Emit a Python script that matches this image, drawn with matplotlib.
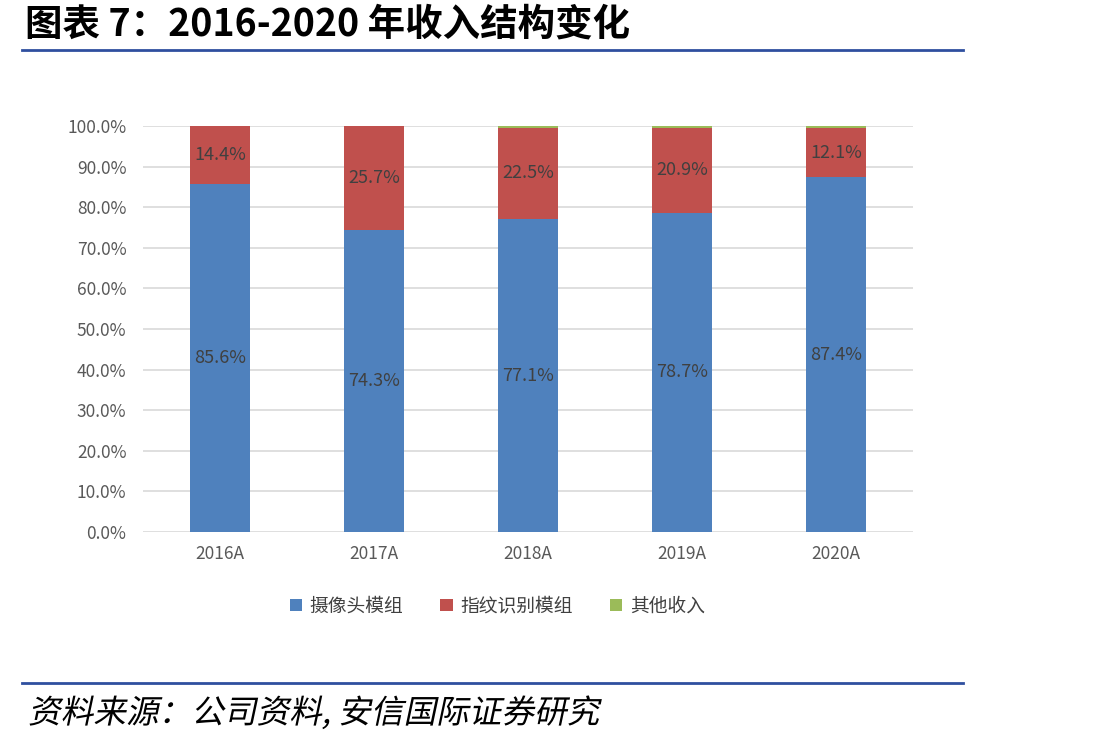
import matplotlib.pyplot as plt
from matplotlib.lines import Line2D
from matplotlib.ticker import FuncFormatter
from matplotlib.textpath import TextPath
from matplotlib.patches import PathPatch
from matplotlib.font_manager import FontProperties
from matplotlib.transforms import Affine2D

plt.rcParams['font.family'] = ['Noto Sans CJK SC', 'DejaVu Sans']

# Data (percent of revenue)
years = ['2016A', '2017A', '2018A', '2019A', '2020A']
camera = [85.6, 74.3, 77.1, 78.7, 87.4]
fingerprint = [14.4, 25.7, 22.5, 20.9, 12.1]
other = [0.0, 0.0, 0.4, 0.4, 0.5]
series_names = ['摄像头模组', '指纹识别模组', '其他收入']

BLUE = '#4F81BD'
RED = '#C0504D'
GREEN = '#9BBB59'
LINE_BLUE = '#2F4F9F'

fig = plt.figure(figsize=(11.15, 7.44), dpi=100)
ax = fig.add_axes([0.1283, 0.2849, 0.6905, 0.5457])

x = list(range(len(years)))
width = 0.39
ax.bar(x, camera, width, color=BLUE, label=series_names[0], zorder=3)
ax.bar(x, fingerprint, width, bottom=camera, color=RED, label=series_names[1], zorder=3)
bottom2 = [c + f for c, f in zip(camera, fingerprint)]
ax.bar(x, other, width, bottom=bottom2, color=GREEN, label=series_names[2], zorder=3)

# data labels
for i in x:
    ax.text(i, camera[i] / 2, f'{camera[i]:.1f}%', ha='center', va='center',
            fontsize=13, color='#404040', zorder=4)
    ax.text(i, camera[i] + fingerprint[i] / 2, f'{fingerprint[i]:.1f}%', ha='center',
            va='center', fontsize=13, color='#404040', zorder=4)

ax.set_xlim(-0.5, len(years) - 0.5)
ax.set_ylim(0, 100)
ax.set_yticks(range(0, 101, 10))
ax.yaxis.set_major_formatter(FuncFormatter(lambda v, p: f'{v:.1f}%'))
ax.set_xticks(x)
ax.set_xticklabels(years)
ax.tick_params(axis='both', length=0, labelsize=12.5, colors='#595959', pad=9)
ax.tick_params(axis='y', pad=12)
ax.grid(axis='y', color='#D9D9D9', linewidth=1.2, zorder=0)
for s in ax.spines.values():
    s.set_visible(False)

ax.legend(loc='upper center', bbox_to_anchor=(0.46, -0.115), ncol=3, frameon=False,
          fontsize=13.5, handlelength=0.65, handleheight=0.65, handletextpad=0.4,
          columnspacing=2.0, labelcolor='#404040')

# title and separators
fig.text(0.022, 0.968, '图表 7：2016-2020 年收入结构变化', fontsize=27, fontweight='bold',
         va='center', ha='left', color='black')
fig.add_artist(Line2D([0.02, 0.864], [1 - 50 / 744] * 2, color=LINE_BLUE, linewidth=2))
fig.add_artist(Line2D([0.02, 0.864], [1 - 683 / 744] * 2, color=LINE_BLUE, linewidth=2))

# italic-looking source line (CJK font has no italic face, so skew the glyph path)
src_path = TextPath((0, 0), '资料来源：公司资料, 安信国际证券研究', size=23.5,
                    prop=FontProperties(family='Noto Sans CJK SC', weight='light'))
src_tf = (Affine2D().skew_deg(12, 0).scale(1 / 72).translate(0.28, (744 - 723) / 100)
          + fig.dpi_scale_trans)
fig.add_artist(PathPatch(src_path, transform=src_tf, facecolor='black', edgecolor='none'))

fig.savefig('out.png', dpi=100)
